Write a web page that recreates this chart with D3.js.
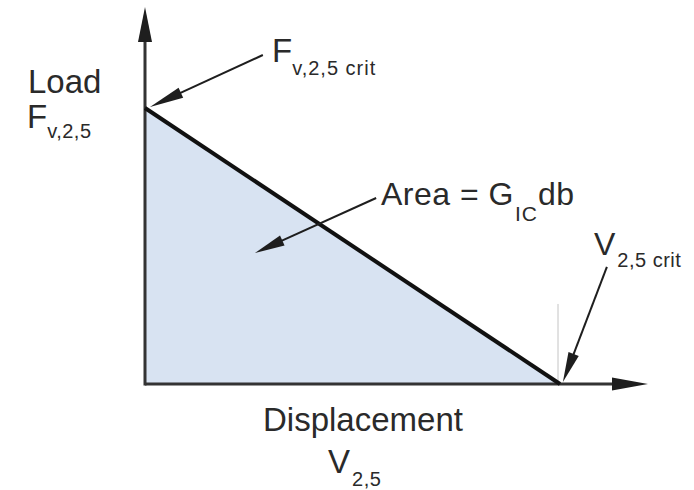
<!DOCTYPE html>
<html>
<head>
<meta charset="utf-8">
<script src="https://cdn.jsdelivr.net/npm/d3@7"></script>
<style>
  html, body { margin: 0; padding: 0; background: #fff; }
  svg { display: block; font-family: "Liberation Sans", Arial, Helvetica, sans-serif; }
</style>
</head>
<body>
<svg id="chart" width="694" height="490"></svg>
<script>
// Normalised load-displacement record: load falls linearly from F_crit to zero at V_crit
const displacement = [0, 1];
const load = [1, 0];

// Axis extents (in the same normalised units)
const xAxisEnd = 1.212;
const yAxisEnd = 1.366;

// Annotation arrows: [fromX, fromY, toX, toY] in data units
const arrowFcrit = [0.284, 1.192, 0.012, 1.004];
const arrowArea = [0.557, 0.674, 0.265, 0.475];
const arrowVcrit = [1.113, 0.424, 1.007, 0.007];

const svg = d3.select("#chart");
const x = d3.scaleLinear().domain([0, 1]).range([145, 560]);
const y = d3.scaleLinear().domain([0, 1]).range([384, 108]);

const ink = "#1e1e1e";

// Shaded area under the curve (fracture energy)
const pts = displacement.map((d, i) => [d, load[i]]);
const area = d3.area().x(d => x(d[0])).y0(y(0)).y1(d => y(d[1]));
svg.append("path").datum(pts)
  .attr("d", area)
  .attr("fill", "#d8e3f2");

// faint guide at V_crit
svg.append("line")
  .attr("x1", x(1) - 2).attr("x2", x(1) - 2)
  .attr("y1", y(0.29)).attr("y2", y(0))
  .attr("stroke", "#c4c4c4").attr("stroke-width", 1);

// filled arrowhead pointing at (tx,ty) coming from (fx,fy)
function head(fx, fy, tx, ty, len, half) {
  const a = Math.atan2(ty - fy, tx - fx);
  const bx = tx - len * Math.cos(a), by = ty - len * Math.sin(a);
  const nx = -Math.sin(a) * half, ny = Math.cos(a) * half;
  svg.append("path")
    .attr("d", `M${tx},${ty}L${bx + nx},${by + ny}L${bx - nx},${by - ny}Z`)
    .attr("fill", ink);
}

// Axes
svg.append("line")
  .attr("x1", x(0)).attr("y1", y(0))
  .attr("x2", x(xAxisEnd) - 20).attr("y2", y(0))
  .attr("stroke", "#333").attr("stroke-width", 3);
head(x(0), y(0), x(xAxisEnd), y(0), 36, 6.5);

svg.append("line")
  .attr("x1", x(0)).attr("y1", y(0) + 1.5)
  .attr("x2", x(0)).attr("y2", y(yAxisEnd) + 20)
  .attr("stroke", "#333").attr("stroke-width", 3);
head(x(0), y(0), x(0), y(yAxisEnd), 35, 7);

// Load-displacement line
svg.append("path").datum(pts)
  .attr("d", d3.line().x(d => x(d[0])).y(d => y(d[1])))
  .attr("fill", "none")
  .attr("stroke", "#111")
  .attr("stroke-width", 4);

// Annotation arrows
function arrow(a, len, half) {
  const [fx, fy, tx, ty] = [x(a[0]), y(a[1]), x(a[2]), y(a[3])];
  const ang = Math.atan2(ty - fy, tx - fx);
  svg.append("line")
    .attr("x1", fx).attr("y1", fy)
    .attr("x2", tx - (len - 4) * Math.cos(ang)).attr("y2", ty - (len - 4) * Math.sin(ang))
    .attr("stroke", ink).attr("stroke-width", 2);
  head(fx, fy, tx, ty, len, half);
}
arrow(arrowFcrit, 34, 5.5);
arrow(arrowArea, 30, 5.5);
arrow(arrowVcrit, 30, 5.5);

// Text with subscript
function label(px, py, main, sub, subDx, subDy, size, subSize, subSpacing) {
  const t = svg.append("text")
    .attr("x", px).attr("y", py)
    .attr("fill", "#2a2a2a")
    .attr("font-size", size);
  t.append("tspan").text(main);
  if (sub) {
    t.append("tspan")
      .attr("dx", subDx).attr("dy", subDy)
      .attr("font-size", subSize)
      .attr("letter-spacing", subSpacing || 0)
      .text(sub);
  }
  return t;
}

label(28, 93, "Load", null, 0, 0, 33);
label(27, 128, "F", "v,2,5", 0, 10, 33, 20, 0.5);
label(272, 62, "F", "v,2,5 crit", 0, 13, 33, 20, 1);

// Area = G_IC db
const t = svg.append("text").attr("x", 381).attr("y", 205)
  .attr("fill", "#2a2a2a").attr("font-size", 32);
t.append("tspan").attr("letter-spacing", 0.5).text("Area = G");
t.append("tspan").attr("dx", 1).attr("dy", 16).attr("font-size", 21)
  .attr("letter-spacing", 1).text("IC");
t.append("tspan").attr("dy", -16).attr("letter-spacing", 0.5).text("db");

label(594, 255, "V", "2,5 crit", 2, 12, 32, 20, 0.5);

label(263, 431, "Displacement", null, 0, 0, 33);
label(328, 473, "V", "2,5", 2, 13, 33, 20, 0.5);
</script>
</body>
</html>
